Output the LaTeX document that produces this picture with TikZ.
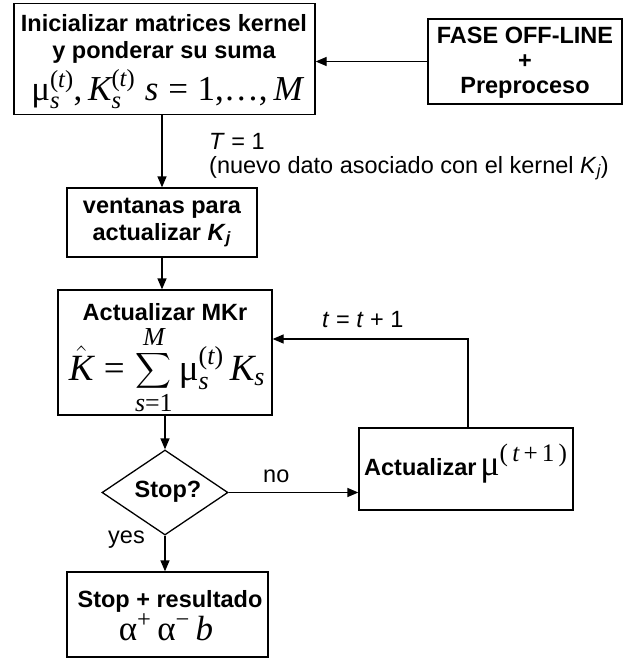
\RequirePackage{fix-cm}
\documentclass[tikz,border=0pt]{standalone}
\usepackage{amsmath}
\usepackage{fontspec}
\setmainfont{Liberation Sans}
\newfontfamily\serifmath{Liberation Serif}
\usetikzlibrary{arrows.meta,shapes.geometric}
\newcommand{\gmu}{\text{\serifmath μ}}
\newcommand{\galpha}{\text{\serifmath α}}
\newcommand{\mv}[1]{\text{\serifmath\itshape #1}}
\newcommand{\mr}[1]{\text{\serifmath #1}}
\newcommand{\meq}{\mathrel{\mr{=}}}
\begin{document}
\begin{tikzpicture}[x=1pt,y=-1pt,
  box/.style={draw,line width=1.3pt,inner sep=0pt},
  btxt/.style={inner sep=0pt,anchor=base,font=\fontsize{23.5}{27}\selectfont\bfseries,align=center},
  mtxt/.style={inner sep=0pt,anchor=base,font=\fontsize{35}{38}\selectfont},
  arr/.style={line width=1.3pt,-{Triangle[length=11pt,width=9pt]}},
  lbl/.style={inner sep=0pt,anchor=base west,font=\fontsize{23.5}{27}\selectfont}]
\useasboundingbox (0,0) rectangle (633,659);
% boxes
\node[box,minimum width=301,minimum height=111] (init) at (164.5,59) {};
\node[box,minimum width=194,minimum height=85] (fase) at (525,61.5) {};
\node[box,minimum width=190,minimum height=69] (vent) at (162,222.5) {};
\node[box,minimum width=214,minimum height=125] (mkr) at (165,352.5) {};
\node[draw,diamond,line width=1.3pt,inner sep=0pt,minimum width=126,minimum height=85] (stopq) at (165,492.5) {};
\node[box,minimum width=214,minimum height=82] (mu) at (466,469) {};
\node[box,minimum width=201,minimum height=85] (res) at (167.5,614.5) {};
% texts
\node[btxt] (i1) at (164,31) {Inicializar matrices kernel};
\node[btxt] (i2) at (164,58) {y ponderar su suma};
\node[mtxt] (i3) at (167,100) {$\gmu_{\mv{s}}^{\mr{(}\mv{t}\mr{)}}\mr{,}\,\mv{K}_{\mv{s}}^{\mr{(}\mv{t}\mr{)}}\ \mv{s}\meq\mr{1,}\mr{…}\mr{,}\,\mv{M}$};
\node[btxt] (f1) at (525,43) {FASE OFF-LINE};
\node[btxt] (f2) at (525,68) {+};
\node[btxt] (f3) at (525,93) {Preproceso};
\node[btxt] (v1) at (162,213) {ventanas para};
\node[btxt] (v2) at (162,240) {actualizar \textit{K}$_{\textbf{\textit{j}}}$};
\node[btxt] (m1) at (165,320) {Actualizar MKr};
\node[mtxt,font=\fontsize{37}{40}\selectfont] (m2) at (167,380) {$\displaystyle\hat{\mv{K}}\meq\sum_{\mv{s}\mr{=1}}^{\mv{M}}\gmu_{\mv{s}}^{\mr{(}\mv{t}\mr{)}}\,\mv{K}_{\mv{s}}$};
\node[btxt] (sq) at (168,497) {Stop?};
\node[btxt,anchor=base west] (a1) at (364,475) {Actualizar\,{\fontsize{36}{38}\selectfont\mdseries$\gmu^{\mr{(}\,\mv{t}\,\mr{+}\,\mr{1}\,\mr{)}}$}};
\node[btxt] (r1) at (170,607) {Stop + resultado};
\node[mtxt] (r2) at (166,640) {$\galpha^{\mr{+}}\,\galpha^{\mr{−}}\,\mv{b}$};
% connectors
\coordinate (corner) at (468,339);
\draw[arr] (fase.west) -- (fase.west -| init.east);
\draw[arr] (vent.north |- init.south) -- (vent.north);
\draw[arr] (vent.south) -- (vent.south |- mkr.north);
\draw[arr] (mkr.south) -- (stopq.north);
\draw[arr] (stopq.south) -- (stopq.south |- res.north);
\draw[arr] (stopq.east) -- (stopq.east -| mu.west);
\draw[arr] (corner |- mu.north) -- (corner) -- (corner -| mkr.east);
% labels
\node[lbl] (tlab) at (209,149) {\textit{T} = 1};
\node[lbl] (nlab) at (209,173) {(nuevo dato asociado con el kernel \textit{K}$_{\textit{j}}$)};
\node[lbl] (inc) at (322,327) {\textit{t} = \textit{t} + 1};
\node[lbl] (nol) at (263,482) {no};
\node[lbl] (yesl) at (108,543) {yes};
\end{tikzpicture}
\end{document}
